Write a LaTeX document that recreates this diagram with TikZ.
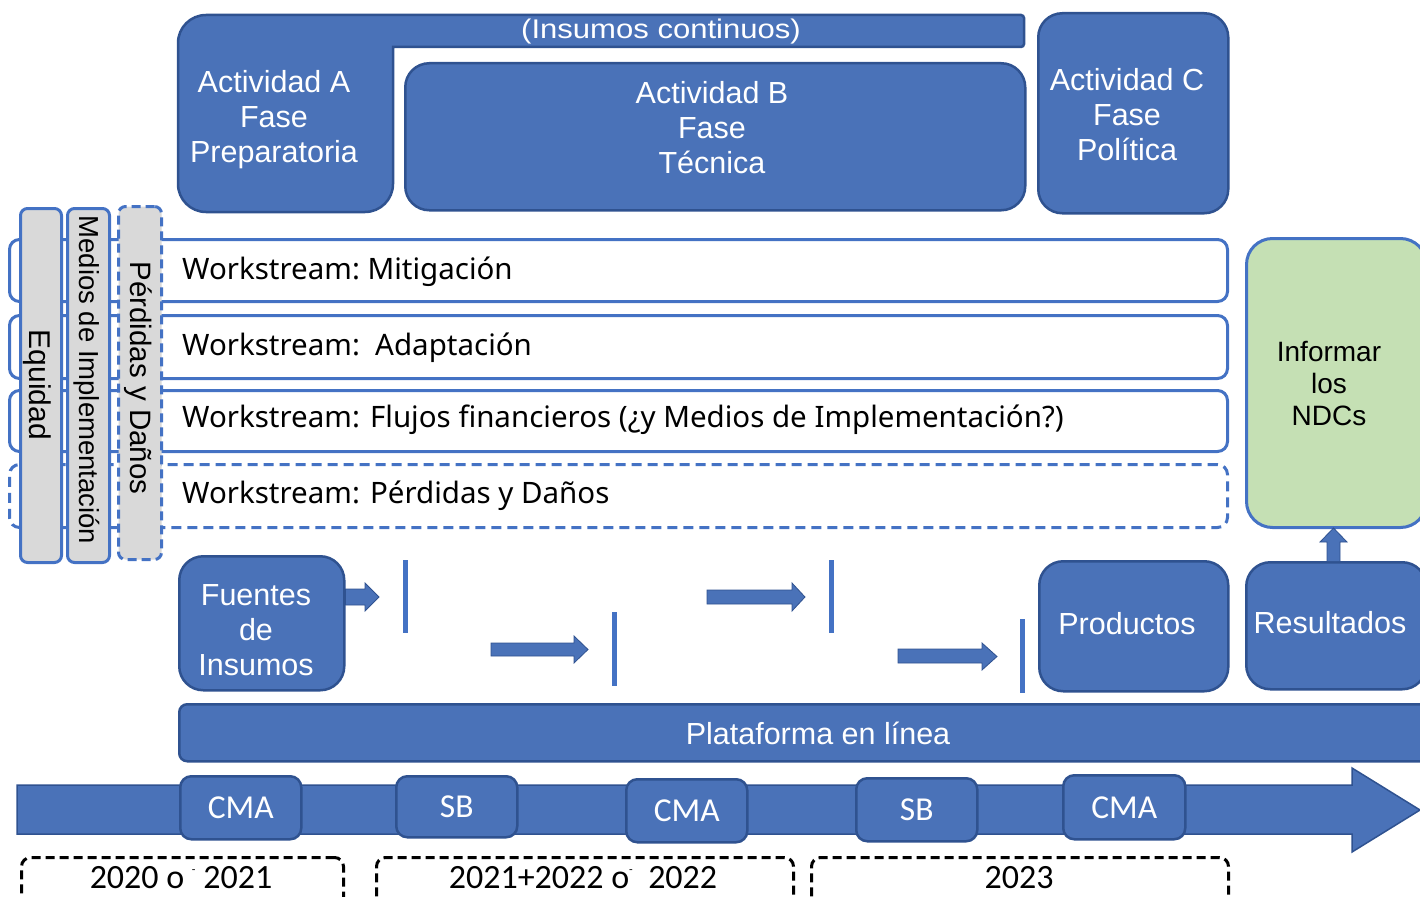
\documentclass[tikz,border=0pt]{standalone}
\usepackage{fontspec}
\setmainfont{Liberation Sans}
\newfontfamily\calfont{Carlito}
\newfontfamily\wsfont{Noto Sans}
\definecolor{fillblue}{HTML}{4A72B8}
\definecolor{edgeblue}{HTML}{2F5290}
\definecolor{lineblue}{HTML}{4472C4}
\definecolor{barbg}{HTML}{D9D9D9}
\definecolor{ndcgreen}{HTML}{C5E0B4}
\tikzset{
  bluebox/.style={draw=edgeblue, fill=fillblue, line width=2.5pt, rounded corners=24pt, inner sep=0pt, anchor=north west},
  wsbox/.style={draw=lineblue, fill=white, line width=3pt, rounded corners=10pt, inner sep=0pt, anchor=north west},
  vbar/.style={draw=lineblue, fill=barbg, line width=3pt, rounded corners=7pt, inner sep=0pt, anchor=north west},
  tlbox/.style={draw=edgeblue, fill=fillblue, line width=2.5pt, rounded corners=11pt, inner sep=0pt, anchor=north west, text=white, font=\calfont\fontsize{33.5}{33}\selectfont},
  yearbox/.style={draw=black, dash pattern=on 9pt off 5pt, line width=3pt, rounded corners=9pt, inner sep=0pt, anchor=north west},
  wtext/.style={text=white, align=center, font=\fontsize{30.5}{35}\selectfont, inner sep=0pt},
  btext/.style={text=black, align=center, font=\fontsize{30}{35}\selectfont, inner sep=0pt},
  wstext/.style={text=black, anchor=west, font=\wsfont\fontsize{29.5}{35}\selectfont, inner sep=0pt},
  yeartext/.style={text=black, font=\calfont\fontsize{34}{34}\selectfont, inner sep=0pt},
  barrow/.style={fill=fillblue, draw=edgeblue, line width=0.8pt},
  stopline/.style={draw=lineblue, line width=5pt},
}
\newcommand\dimtick{\raisebox{0.45em}{\scalebox{0.35}{-}}}
\begin{document}
\begin{tikzpicture}[x=1pt,y=-1pt]
\useasboundingbox (0,0) rectangle (1420,896);

% Actividad A with continuous inputs band
\draw[draw=edgeblue, fill=fillblue, line width=2.5pt]
  (178,43) arc[start angle=180, end angle=270, radius=28] -- (1021,15)
  arc[start angle=270, end angle=360, radius=3] -- (1024,44)
  arc[start angle=0, end angle=90, radius=3] -- (393,47) -- (393,184)
  arc[start angle=0, end angle=90, radius=28] -- (206,212)
  arc[start angle=90, end angle=180, radius=28] -- cycle;
\node[wtext] (actA) at (274,120) {Actividad A\\Fase\\Preparatoria};
\node[wtext, font=\fontsize{27}{30}\selectfont] (insumos) at (661,32) {\scalebox{1.15}[1]{(Insumos continuos)}};

\node[bluebox, minimum width=620pt, minimum height=147pt] (actB) at (404,62) {};
\node[wtext] (actBt) at (712,128) {Actividad B\\Fase\\Técnica};
\node[bluebox, minimum width=190pt, minimum height=200pt] (actC) at (1037,12) {};
\node[wtext] (actCt) at (1127,115) {Actividad C\\Fase\\Política};

% workstreams
\node[wsbox, minimum width=1218pt, minimum height=62pt] (ws1) at (8,238) {};
\node[wsbox, minimum width=1218pt, minimum height=63pt] (ws2) at (8,314) {};
\node[wsbox, minimum width=1218pt, minimum height=61pt] (ws3) at (8,389) {};
\node[wsbox, dash pattern=on 10pt off 6pt, minimum width=1218pt, minimum height=63pt] (ws4) at (8,463) {};
\node[wstext] (ws1t) at (182,272) {Workstream:\ Mitigación};
\node[wstext] (ws2t) at (182,348) {Workstream:\ \ Adaptación};
\node[wstext] (ws3t) at (182,420) {Workstream: Flujos financieros (¿y Medios de Implementación?)};
\node[wstext] (ws4t) at (182,496) {Workstream: Pérdidas y Daños};

% vertical cross-cutting bars
\node[vbar, minimum width=41pt, minimum height=354pt] (eq) at (19,207) {};
\node[vbar, minimum width=42pt, minimum height=354pt] (med) at (66,207) {};
\node[vbar, dash pattern=on 9pt off 5pt, minimum width=43pt, minimum height=353pt] (pyd) at (117,205) {};
\node[btext, rotate=-90] (eqt) at (37,385) {Equidad};
\node[btext, rotate=-90, font=\fontsize{27.5}{30}\selectfont] (medt) at (87,380) {Medios de Implementación};
\node[btext, rotate=-90, font=\fontsize{29.5}{30}\selectfont] (pydt) at (138,378) {Pérdidas y Daños};

% right column
\node[draw=lineblue, fill=ndcgreen, line width=3pt, rounded corners=26pt, anchor=north west,
      minimum width=180pt, minimum height=289pt, inner sep=0pt] (ndc) at (1245,237) {};
\node[btext, font=\fontsize{28}{32}\selectfont] (ndct) at (1329,384) {Informar\\los\\NDCs};
\node[bluebox, minimum width=180pt, minimum height=127pt] (res) at (1245,561) {};
\node[wtext] (rest) at (1330,623) {Resultados};
\node[bluebox, minimum width=189pt, minimum height=130pt] (prod) at (1038,560) {};
\node[wtext] (prodt) at (1127,624) {Productos};
\draw[barrow] (1327,561) -- (1327,542) -- (1320,542) -- (1333.5,528) -- (1347,542) -- (1340,542) -- (1340,561);

% flow
\node[bluebox, minimum width=165pt, minimum height=134pt] (fuentes) at (178,555) {};
\node[wtext] (fuentest) at (256,630) {Fuentes\\de\\Insumos};

\draw[barrow] (fuentes.east |- 0,589) -- (365,589) -- (365,583) -- (379,597) -- (365,611) -- (365,605) -- (fuentes.east |- 0,605) -- cycle;
\draw[stopline] (405,560) -- (405,633);
\draw[barrow] (491,643) -- (574,643) -- (574,636) -- (588,649.5) -- (574,663) -- (574,656) -- (491,656) -- cycle;
\draw[stopline] (614,612) -- (614,686);
\draw[barrow] (707,590) -- (792,590) -- (792,583) -- (805,597) -- (792,611) -- (792,604) -- (707,604) -- cycle;
\draw[stopline] (831,560) -- (831,633);
\draw[barrow] (898,649) -- (982,649) -- (982,643) -- (997,656.5) -- (982,670) -- (982,663) -- (898,663) -- cycle;
\draw[stopline] (1022,619) -- (1022,693);

% platform
\node[draw=edgeblue, fill=fillblue, line width=2.5pt, rounded corners=8pt, anchor=north west,
      minimum width=1252pt, minimum height=57pt, inner sep=0pt] (plat) at (178,703) {};
\node[wtext] (platt) at (818,733) {Plataforma en línea};

% timeline
\draw[fill=fillblue, draw=edgeblue, line width=1.5pt]
  (17,785) -- (1352,785) -- (1352,768) -- (1420,810) -- (1352,852) -- (1352,834) -- (17,834) -- cycle;
\node[tlbox, minimum width=121pt, minimum height=63pt] (cma1) at (179,775) {CMA};
\node[tlbox, minimum width=121pt, minimum height=61pt] (sb1) at (395,775) {SB};
\node[tlbox, minimum width=121pt, minimum height=63pt] (cma2) at (625,778) {CMA};
\node[tlbox, minimum width=121pt, minimum height=63pt] (sb2) at (855,777) {SB};
\node[tlbox, minimum width=122pt, minimum height=64pt] (cma3) at (1062,774) {CMA};

% years
\node[yearbox, minimum width=322pt, minimum height=60pt] (y1) at (20,856) {};
\node[yearbox, minimum width=417pt, minimum height=60pt] (y2) at (375,856) {};
\node[yearbox, minimum width=417pt, minimum height=60pt] (y3) at (810,856) {};
\node[yeartext] (y1t) at (181,878) {2020 o \dimtick\ 2021};
\node[yeartext] (y2t) at (583,878) {2021+2022 o\dimtick\ \ 2022};
\node[yeartext] (y3t) at (1019,878) {2023};
\end{tikzpicture}
\end{document}
